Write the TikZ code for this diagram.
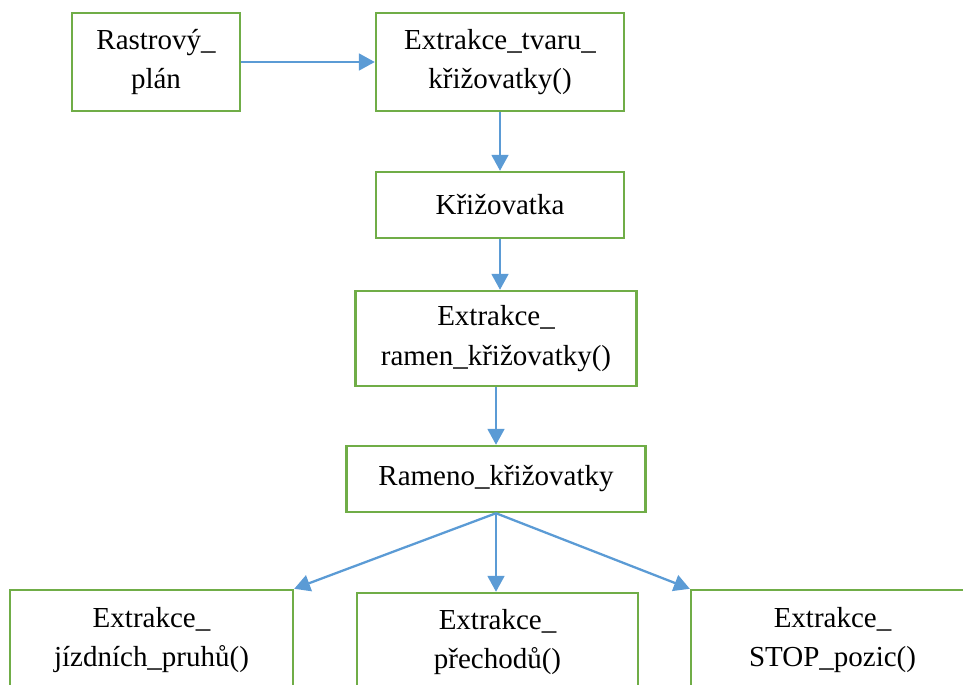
\documentclass[tikz,border=0pt]{standalone}
\usepackage{fontspec}
\setmainfont{Liberation Serif}
\usetikzlibrary{arrows.meta}
\definecolor{boxgreen}{HTML}{70AD47}
\definecolor{arrowblue}{HTML}{5B9BD5}
\tikzset{
  blok/.style={draw=boxgreen, line width=1.4pt, align=center, inner sep=0pt,
    font=\fontsize{16.5}{22.5}\selectfont},
  sipka/.style={draw=arrowblue, line width=1.3pt, -{Triangle[length=9pt,width=9.5pt]}}
}

\begin{document}
\begin{tikzpicture}[x=0.02cm,y=-0.02cm]
        \clip (0,0) rectangle (963,684);
        \node[blok, minimum width=3.36cm, minimum height=1.96cm] (rastr) at (156,62) {Rastrový\_\\plán};
        \node[blok, minimum width=4.96cm, minimum height=1.96cm] (tvar) at (500,62) {Extrakce\_tvaru\_\\křižovatky()};
        \node[blok, minimum width=4.96cm, minimum height=1.32cm] (kriz) at (500,205) {Křižovatka};
        \node[blok, minimum width=5.62cm, minimum height=1.9cm] (ramena) at (496,338.5) {Extrakce\_\\ramen\_křižovatky()};
        \node[blok, minimum width=5.98cm, minimum height=1.32cm] (rameno) at (496,479) {Rameno\_křižovatky};
        \node[blok, minimum width=5.66cm, minimum height=2cm] (pruhy) at (151.5,640) {Extrakce\_\\jízdních\_pruhů()};
        \node[blok, minimum width=5.62cm, minimum height=1.96cm] (prechody) at (497.5,642) {Extrakce\_\\přechodů()};
        \node[blok, minimum width=5.66cm, minimum height=2cm] (stop) at (832.5,640) {Extrakce\_\\STOP\_pozic()};
        \draw[sipka] (rastr) -- (tvar);
        \draw[sipka] (tvar) -- (kriz);
        \draw[sipka] (kriz) -- (kriz |- ramena.north);
        \draw[sipka] (ramena.south -| rameno) -- (rameno);
        \draw[sipka] (rameno.south) -- (pruhy.north east);
        \draw[sipka] (rameno.south) -- (rameno.south |- prechody.north);
        \draw[sipka] (rameno.south) -- (stop.north west);
\end{tikzpicture}
\end{document}
